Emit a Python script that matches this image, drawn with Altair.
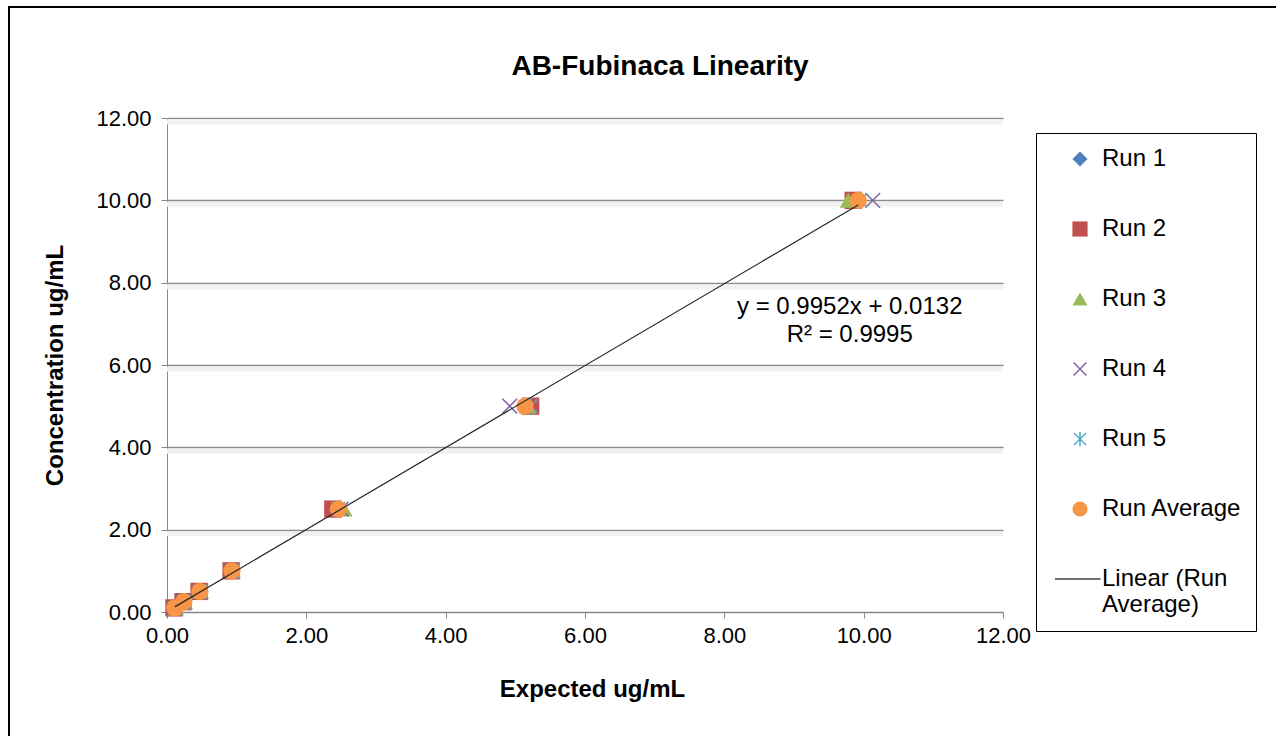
import altair as alt
import pandas as pd
import numpy as np

# ---------------- data ----------------
expected = [0.1, 0.25, 0.5, 1.0, 2.5, 5.0, 10.0]
run1 = [0.11, 0.24, 0.47, 0.93, 2.42, 5.15, 9.90]
run2 = [0.10, 0.23, 0.46, 0.92, 2.38, 5.22, 9.85]
run3 = [0.12, 0.25, 0.48, 0.94, 2.54, 5.18, 9.78]
run4 = [0.11, 0.24, 0.48, 0.93, 2.50, 4.92, 10.13]
run5 = [0.12, 0.25, 0.47, 0.94, 2.46, 5.22, 9.95]
run_avg = [0.112, 0.242, 0.472, 0.932, 2.46, 5.138, 9.922]

series_names = ["Run 1", "Run 2", "Run 3", "Run 4", "Run 5", "Run Average",
                "Linear (Run Average)"]
fill_colors = ["#4F81BD", "#C0504D", "#9BBB59", "transparent", "transparent",
               "#F79646", "transparent"]
stroke_colors = ["transparent", "transparent", "transparent", "#8064A2", "#4BACC6",
                 "transparent", "#404040"]
shapes = ["diamond", "square", "triangle-up",
          "M-0.85,-0.85L0.85,0.85M-0.85,0.85L0.85,-0.85",
          "M-0.8,-0.8L0.8,0.8M-0.8,0.8L0.8,-0.8M0,-0.95L0,0.95",
          "circle", "M-3.3,0L2.7,0"]

slope, intercept = 0.9952, 0.0132
eq_lines = ["y = 0.9952x + 0.0132", "R² = 0.9995"]
chart_title = ["AB-Fubinaca Linearity"]

x_ticks = [0, 2, 4, 6, 8, 10, 12]
y_ticks = [0, 2, 4, 6, 8, 10, 12]

FONT = "Liberation Sans"

# ---------------- tables ----------------
runs = [run1, run2, run3, run4, run5, run_avg]
rows = []
for name, vals in zip(series_names[:6], runs):
    for xv, yv in zip(vals, expected):
        rows.append({"series": name, "x": xv, "y": yv})
pts = pd.DataFrame(rows)

xmin, xmax = min(run_avg), max(run_avg)
trend = pd.DataFrame({"x": [xmin, xmax],
                      "y": [slope * xmin + intercept, slope * xmax + intercept]})

ann = pd.DataFrame({"text": eq_lines, "x": [9.8, 9.8], "y": [7.41, 6.73]})
grid = pd.DataFrame({"y": y_ticks[1:]})
title_df = pd.DataFrame({"text": chart_title})
frame_df = pd.DataFrame({"a": [0]})

xscale = alt.Scale(domain=[0, 12], nice=False, zero=False)
yscale = alt.Scale(domain=[0, 12], nice=False, zero=False)

x_axis = alt.Axis(title="Expected ug/mL", values=x_ticks, format=".2f",
                  grid=False, domainColor="#868686", tickColor="#868686",
                  tickSize=6, labelPadding=7, titlePadding=31, labelFlush=False,
                  titleX=425,
                  labelFontSize=22, titleFontSize=24, titleFontWeight="bold",
                  labelColor="#000", titleColor="#000",
                  labelFont=FONT, titleFont=FONT)
y_axis = alt.Axis(title="Concentration ug/mL", values=y_ticks, format=".2f",
                  grid=True, gridColor="#8c8c8c", gridWidth=1.5,
                  domainColor="#868686", tickColor="#868686", labelFlush=False,
                  tickSize=6, labelPadding=10, titlePadding=28,
                  labelFontSize=22, titleFontSize=24, titleFontWeight="bold",
                  labelColor="#000", titleColor="#000",
                  labelFont=FONT, titleFont=FONT)

leg = alt.Legend(
    labelExpr="datum.label == 'Linear (Run Average)' ? ['Linear (Run', 'Average)'] : datum.label"
)

# subtle shadow under gridlines
shadow = alt.Chart(grid).mark_rule(color="#f1f1f1", strokeWidth=5, yOffset=4).encode(
    y=alt.Y("y:Q", scale=yscale, axis=y_axis)
)

points = alt.Chart(pts).mark_point(opacity=1, strokeWidth=1.5, size=300).encode(
    x=alt.X("x:Q", scale=xscale, axis=x_axis),
    y=alt.Y("y:Q", scale=yscale, axis=y_axis),
    fill=alt.Fill("series:N", scale=alt.Scale(domain=series_names, range=fill_colors),
                  title=None, legend=leg),
    stroke=alt.Stroke("series:N", scale=alt.Scale(domain=series_names, range=stroke_colors),
                      title=None, legend=leg),
    shape=alt.Shape("series:N", scale=alt.Scale(domain=series_names, range=shapes),
                    title=None, legend=leg),
)

line = alt.Chart(trend).mark_line(color="#262626", strokeWidth=1.2).encode(
    x=alt.X("x:Q", scale=xscale),
    y=alt.Y("y:Q", scale=yscale),
)

text = alt.Chart(ann).mark_text(font=FONT, fontSize=24, color="#000",
                                align="center", baseline="middle").encode(
    x=alt.X("x:Q", scale=xscale),
    y=alt.Y("y:Q", scale=yscale),
    text="text:N",
)

title = alt.Chart(title_df).mark_text(font=FONT, fontSize=28, fontWeight="bold",
                                      color="#000", align="center",
                                      baseline="middle").encode(
    x=alt.value(493), y=alt.value(-51), text="text:N",
)

frame = alt.Chart(frame_df).mark_rect(fill="transparent", stroke="#000",
                                      strokeWidth=2).encode(
    x=alt.value(-158), x2=alt.value(1125),
    y=alt.value(-111), y2=alt.value(640),
)

chart = alt.layer(shadow, points, line, text, title, frame).properties(
    width=836, height=494,
    autosize=alt.AutoSizeParams(type="none"),
    padding={"left": 167, "top": 118, "right": 273, "bottom": 124},
    background="white",
).configure_view(stroke=None).configure_legend(
    orient="none", legendX=869, legendY=15,
    strokeColor="#000", strokeWidth=1, fillColor="white", padding=14,
    labelFont=FONT, labelFontSize=24, labelColor="#000", labelLimit=300,
    labelOffset=10, rowPadding=46, symbolStrokeWidth=1.5, symbolSize=230,
    symbolOffset=18,
)

chart.save("out.html", embed_options={"renderer": "svg", "actions": False})
